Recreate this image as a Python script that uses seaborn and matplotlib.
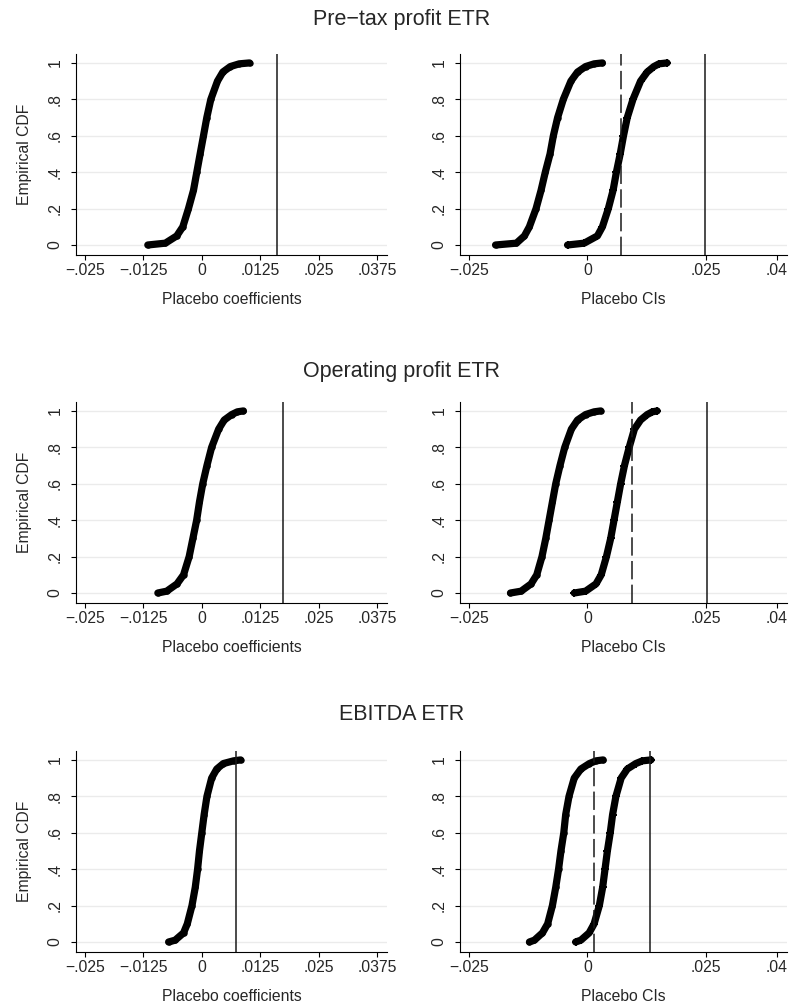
import matplotlib
matplotlib.use("Agg")
import matplotlib.pyplot as plt
import numpy as np
import pandas as pd
import seaborn as sns

# ---------------- data ----------------
cdf_levels = [0, 0.01, 0.05, 0.1, 0.2, 0.3, 0.4, 0.5, 0.6, 0.7, 0.8, 0.9, 0.95, 0.98, 0.995, 1.0]

row_titles = ["Pre\u2212tax profit ETR", "Operating profit ETR", "EBITDA ETR"]

# placebo coefficient quantiles (left panels)
pretax_coef = [-0.01155, -0.0078, -0.00535, -0.00406, -0.00285, -0.00178, -0.00107, -0.00036,
               0.00036, 0.00107, 0.00193, 0.00335, 0.0045, 0.0061, 0.0080, 0.0102]
oper_coef = [-0.0094, -0.0075, -0.0053, -0.0039, -0.0027, -0.0019, -0.0011, -0.0005,
             0.0002, 0.0011, 0.0021, 0.0036, 0.0048, 0.0064, 0.0076, 0.0089]
ebitda_coef = [-0.0071, -0.0057, -0.0039, -0.0031, -0.0021, -0.0014, -0.0009, -0.0005,
               0.0000, 0.0005, 0.0011, 0.0021, 0.0032, 0.0046, 0.0068, 0.0083]

# placebo CI bounds quantiles (right panels)
pretax_ci_low = [-0.0194, -0.0150, -0.0133, -0.01226, -0.01085, -0.0098, -0.0089, -0.0079,
                 -0.0072, -0.0063, -0.0051, -0.0035, -0.0021, -0.0004, 0.0014, 0.00315]
pretax_ci_high = [-0.0042, -0.0007, 0.0021, 0.00315, 0.0044, 0.0054, 0.0061, 0.0069,
                  0.0076, 0.0084, 0.0096, 0.0112, 0.0126, 0.0140, 0.0151, 0.0168]
oper_ci_low = [-0.01625, -0.0140, -0.0119, -0.0107, -0.0096, -0.0088, -0.0081, -0.0074,
               -0.0067, -0.0058, -0.0048, -0.0034, -0.0021, -0.0004, 0.0014, 0.0028]
oper_ci_high = [-0.0028, -0.0004, 0.0018, 0.0029, 0.0040, 0.0049, 0.0056, 0.0063,
                0.0070, 0.0078, 0.0088, 0.0099, 0.0112, 0.0126, 0.0137, 0.0147]
ebitda_ci_low = [-0.01225, -0.0112, -0.0095, -0.0084, -0.0074, -0.0067, -0.0061, -0.0056,
                 -0.0050, -0.0046, -0.0039, -0.0028, -0.0014, 0.0004, 0.0018, 0.0033]
ebitda_ci_high = [-0.0025, -0.0014, 0.00035, 0.0014, 0.0025, 0.0032, 0.0037, 0.0042,
                  0.0048, 0.0053, 0.0060, 0.0071, 0.0084, 0.0102, 0.0116, 0.0134]

# reference lines
coef_solid = [0.0160, 0.01727, 0.00728]
ci_dashed = [0.00714, 0.00939, 0.00127]
ci_solid = [0.0249, 0.02528, 0.01314]

left_ticks = [-0.025, -0.0125, 0, 0.0125, 0.025, 0.0375]
left_ticklabels = ["\u2212.025", "\u2212.0125", "0", ".0125", ".025", ".0375"]
right_ticks = [-0.025, 0, 0.025, 0.04]
right_ticklabels = ["\u2212.025", "0", ".025", ".04"]
y_ticks = [0, 0.2, 0.4, 0.6, 0.8, 1.0]
y_ticklabels = ["0", ".2", ".4", ".6", ".8", "1"]

coef_series = [pretax_coef, oper_coef, ebitda_coef]
low_series = [pretax_ci_low, oper_ci_low, ebitda_ci_low]
high_series = [pretax_ci_high, oper_ci_high, ebitda_ci_high]

# ---------------- styling ----------------
sns.set_theme(style="white")
plt.rcParams["font.family"] = ["Liberation Sans", "DejaVu Sans"]
plt.rcParams["axes.unicode_minus"] = True

W, H = 803, 1008
fig = plt.figure(figsize=(W / 100, H / 100), dpi=100)
fig.patch.set_facecolor("white")

row_tops = [54, 402, 751]
axes_h = 201
left_box = (76, 311)
right_box = (460, 327)
title_y = [20, 372, 715]

FS = 11.3
grid_c = "#ebebeb"
line_c = "#1a1a1a"


def style_axes(ax, xlim, ticks, ticklabels, xlabel, ylabel):
    ax.set_facecolor("white")
    ax.set_xlim(*xlim)
    ax.set_ylim(-0.055, 1.049)
    ax.set_xticks(ticks)
    ax.set_xticklabels(ticklabels, fontsize=FS)
    ax.set_yticks(y_ticks)
    ax.set_yticklabels(y_ticklabels, fontsize=FS, rotation=90, va="center")
    for yv in y_ticks:
        ax.axhline(yv, color=grid_c, lw=1.0, zorder=0)
    for s in ["top", "right"]:
        ax.spines[s].set_visible(False)
    for s in ["left", "bottom"]:
        ax.spines[s].set_color("black")
        ax.spines[s].set_linewidth(0.8)
    ax.tick_params(axis="x", direction="out", length=3.6, width=0.8, color="black", pad=2,
                   bottom=True)
    ax.tick_params(axis="y", direction="out", length=3.6, width=0.8, color="black", pad=6,
                   left=True)
    ax.set_xlabel(xlabel, fontsize=FS, labelpad=10)
    if ylabel:
        ax.set_ylabel(ylabel, fontsize=FS, labelpad=11)
    else:
        ax.set_ylabel("")


def draw_curve(ax, xs, marker, msize, mew):
    df = pd.DataFrame({"x": xs, "cdf": cdf_levels})
    sns.lineplot(data=df, x="x", y="cdf", ax=ax, sort=False, estimator=None,
                 color="black", linewidth=5.2, solid_capstyle="round",
                 solid_joinstyle="round",
                 marker=marker, markersize=msize, markeredgewidth=mew,
                 markeredgecolor="black", markerfacecolor="black", zorder=3)


for r in range(3):
    top = row_tops[r]
    bottom_frac = 1 - (top + axes_h) / H
    h_frac = axes_h / H

    # left panel: placebo coefficients
    axl = fig.add_axes([left_box[0] / W, bottom_frac, left_box[1] / W, h_frac])
    draw_curve(axl, coef_series[r], "o", 4.6, 0)
    axl.axvline(coef_solid[r], color=line_c, lw=1.1, zorder=4)
    style_axes(axl, (-0.0269, 0.0396), left_ticks, left_ticklabels,
               "Placebo coefficients", "Empirical CDF")

    # right panel: placebo CIs
    axr = fig.add_axes([right_box[0] / W, bottom_frac, right_box[1] / W, h_frac])
    draw_curve(axr, low_series[r], "o", 4.6, 0)
    draw_curve(axr, high_series[r], "+", 6, 1.4)
    axr.axvline(ci_dashed[r], color=line_c, lw=1.1, dashes=(12, 3.5), zorder=4)
    axr.axvline(ci_solid[r], color=line_c, lw=1.1, zorder=4)
    style_axes(axr, (-0.0269, 0.0421), right_ticks, right_ticklabels,
               "Placebo CIs", None)

    fig.text(0.5, 1 - title_y[r] / H, row_titles[r], ha="center", va="center",
             fontsize=15.5)

fig.savefig("out.png", dpi=100, facecolor="white")
